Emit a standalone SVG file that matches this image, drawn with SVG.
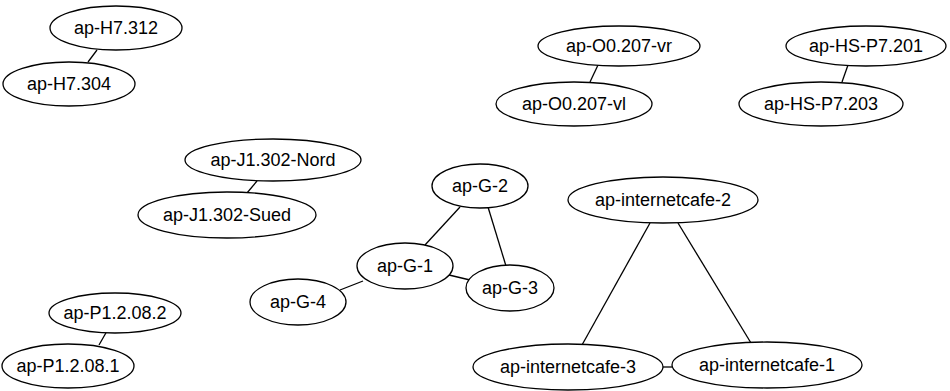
<svg xmlns="http://www.w3.org/2000/svg" width="950" height="391" viewBox="0 0 950 391">
<style>
.n ellipse{fill:#fff;stroke:#000;stroke-width:1.3}
.n text{font-family:"Liberation Sans",Arial,sans-serif;font-size:18px;text-anchor:middle;fill:#000}
#edges line{stroke:#000;stroke-width:1.3}
</style>
<rect width="950" height="391" fill="#fff"/>
<g id="edges">
<line x1="97" y1="50" x2="88" y2="62"/>
<line x1="598" y1="65" x2="590" y2="82"/>
<line x1="848" y1="65" x2="842" y2="82"/>
<line x1="257" y1="181" x2="247" y2="193"/>
<line x1="460" y1="207" x2="425" y2="245"/>
<line x1="488" y1="207" x2="506" y2="266"/>
<line x1="449" y1="275" x2="470" y2="280"/>
<line x1="363" y1="281" x2="340" y2="290"/>
<line x1="107" y1="331" x2="99" y2="345"/>
<line x1="650" y1="223" x2="582" y2="345"/>
<line x1="678" y1="223" x2="751" y2="343"/>
<line x1="662" y1="367" x2="672" y2="367"/>
</g>
<g id="ap-H7.312" class="n"><ellipse cx="116" cy="28" rx="66" ry="22"/><text x="116" y="34">ap-H7.312</text></g>
<g id="ap-H7.304" class="n"><ellipse cx="69" cy="84" rx="66" ry="22"/><text x="69" y="90">ap-H7.304</text></g>
<g id="ap-O0.207-vr" class="n"><ellipse cx="619" cy="46" rx="81" ry="20"/><text x="619" y="52">ap-O0.207-vr</text></g>
<g id="ap-O0.207-vl" class="n"><ellipse cx="574" cy="104" rx="78" ry="22"/><text x="574" y="110">ap-O0.207-vl</text></g>
<g id="ap-HS-P7.201" class="n"><ellipse cx="866" cy="46" rx="80" ry="20"/><text x="866" y="52">ap-HS-P7.201</text></g>
<g id="ap-HS-P7.203" class="n"><ellipse cx="821" cy="104" rx="82" ry="22"/><text x="821" y="110">ap-HS-P7.203</text></g>
<g id="ap-J1.302-Nord" class="n"><ellipse cx="273" cy="160" rx="88" ry="21"/><text x="273" y="166">ap-J1.302-Nord</text></g>
<g id="ap-J1.302-Sued" class="n"><ellipse cx="227" cy="215" rx="89" ry="23"/><text x="227" y="221">ap-J1.302-Sued</text></g>
<g id="ap-G-2" class="n"><ellipse cx="480" cy="186" rx="48" ry="22"/><text x="480" y="192">ap-G-2</text></g>
<g id="ap-G-1" class="n"><ellipse cx="405" cy="266" rx="48" ry="23"/><text x="405" y="272">ap-G-1</text></g>
<g id="ap-G-3" class="n"><ellipse cx="510" cy="288" rx="44" ry="23"/><text x="510" y="294">ap-G-3</text></g>
<g id="ap-G-4" class="n"><ellipse cx="298" cy="302" rx="48" ry="23"/><text x="298" y="308">ap-G-4</text></g>
<g id="ap-P1.2.08.2" class="n"><ellipse cx="115" cy="313" rx="66" ry="20"/><text x="115" y="319">ap-P1.2.08.2</text></g>
<g id="ap-P1.2.08.1" class="n"><ellipse cx="68" cy="366" rx="66" ry="22"/><text x="68" y="372">ap-P1.2.08.1</text></g>
<g id="ap-internetcafe-2" class="n"><ellipse cx="663" cy="200" rx="95" ry="23"/><text x="663" y="206">ap-internetcafe-2</text></g>
<g id="ap-internetcafe-3" class="n"><ellipse cx="568" cy="367" rx="95" ry="23"/><text x="568" y="373">ap-internetcafe-3</text></g>
<g id="ap-internetcafe-1" class="n"><ellipse cx="767" cy="365" rx="95" ry="23"/><text x="767" y="371">ap-internetcafe-1</text></g>
</svg>
